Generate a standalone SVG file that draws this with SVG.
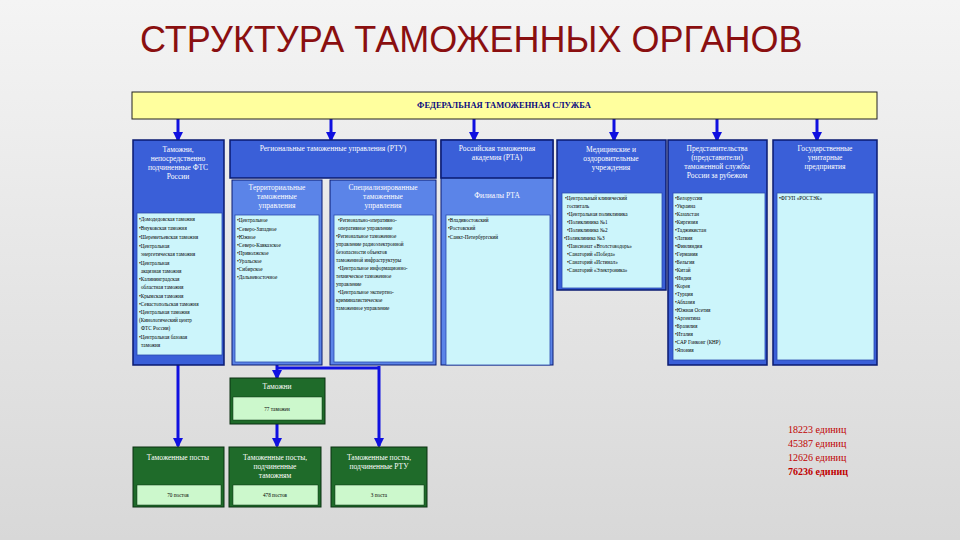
<svg xmlns="http://www.w3.org/2000/svg" width="960" height="540" viewBox="0 0 960 540">
<defs>
<linearGradient id="bg" x1="0" y1="0" x2="0" y2="1"><stop offset="0" stop-color="#f4f4f4"/><stop offset="1" stop-color="#d8d8d8"/></linearGradient>
<marker id="ah" viewBox="0 0 10 10" refX="8" refY="5" markerWidth="3.5" markerHeight="3.5" orient="auto"><path d="M0,0L10,5L0,10z" fill="#1010e0"/></marker>
</defs>
<style>
.db{fill:#3a5fd8;stroke:#0a1a70;stroke-width:1.5}
.mb{fill:#5b84e8;stroke:#0a1a70;stroke-width:1}
.lb{fill:#ccf5fb;stroke:#2a4ab0;stroke-width:0.8}
.h{font-family:"Liberation Serif",serif;font-size:7.5px;fill:#fff;text-anchor:middle}
.l{font-family:"Liberation Serif",serif;font-size:5.2px;fill:#000}
.g{fill:#1f6b2a;stroke:#0a3010;stroke-width:1}
.gl{fill:#ccf8cc;stroke:#0a3010;stroke-width:0.5}
.c{stroke:#1010e0;stroke-width:3;fill:none}
.ca{stroke:#1010e0;stroke-width:3;fill:none;marker-end:url(#ah)}
.n{font-family:"Liberation Serif",serif;font-size:10px;fill:#c00000}
</style>
<rect width="960" height="540" fill="url(#bg)"/>
<text x="140" y="52" font-family="Liberation Sans,sans-serif" font-size="36" fill="#8a0f10">СТРУКТУРА ТАМОЖЕННЫХ ОРГАНОВ</text>
<g id="connectors">
<path class="ca" d="M178,119V140"/><path class="ca" d="M331,119V140"/><path class="ca" d="M474,119V140"/>
<path class="ca" d="M614,119V140"/><path class="ca" d="M717,119V140"/><path class="ca" d="M817,119V140"/>
<path class="ca" d="M178,365V446"/>
<path class="ca" d="M277,365V378"/>
<path class="c" d="M277,368H379"/><path class="ca" d="M379,366V446"/>
<path class="ca" d="M277,424V446"/>
</g>
<g id="fts"><rect x="132" y="92" width="745" height="27" fill="#ffff9e" stroke="#222" stroke-width="1"/>
<text x="504" y="108" font-family="Liberation Serif,serif" font-size="8.5" font-weight="bold" fill="#0a0a80" text-anchor="middle">ФЕДЕРАЛЬНАЯ ТАМОЖЕННАЯ СЛУЖБА</text></g>
<g id="col1"><rect class="db" x="133" y="140" width="91" height="225"/>
<text class="h"><tspan x="178" y="152">Таможни,</tspan><tspan x="178" y="161">непосредственно</tspan><tspan x="178" y="170">подчиненные ФТС</tspan><tspan x="178" y="179">России</tspan></text>
<rect class="lb" x="137" y="213" width="85" height="142"/>
<text class="l"><tspan x="139" y="221">•Домодедовская таможня</tspan><tspan x="139" y="230">•Внуковская таможня</tspan><tspan x="139" y="239">•Шереметьевская таможня</tspan><tspan x="139" y="248">•Центральная</tspan><tspan x="141" y="256">энергетическая таможня</tspan><tspan x="139" y="265">•Центральная</tspan><tspan x="141" y="273">акцизная таможня</tspan><tspan x="139" y="281">•Калининградская</tspan><tspan x="141" y="289">областная таможня</tspan><tspan x="139" y="298">•Крымская таможня</tspan><tspan x="139" y="306">•Севастопольская таможня</tspan><tspan x="139" y="314">•Центральная таможня</tspan><tspan x="139" y="322">(Кинологический центр</tspan><tspan x="141" y="330">ФТС России)</tspan><tspan x="139" y="339">•Центральная базовая</tspan><tspan x="141" y="347">таможня</tspan></text></g>
<g id="rtu"><rect class="db" x="230" y="140" width="206" height="38"/>
<text class="h" x="333" y="151">Региональные таможенные управления (РТУ)</text></g>
<g id="terr"><rect class="mb" x="232" y="180" width="90" height="185"/>
<text class="h"><tspan x="277" y="190">Территориальные</tspan><tspan x="277" y="199">таможенные</tspan><tspan x="277" y="208">управления</tspan></text>
<rect class="lb" x="235" y="215" width="84" height="147"/>
<text class="l"><tspan x="237" y="222">•Центральное</tspan><tspan x="237" y="231">•Северо-Западное</tspan><tspan x="237" y="239">•Южное</tspan><tspan x="237" y="247">•Северо-Кавказское</tspan><tspan x="237" y="255">•Приволжское</tspan><tspan x="237" y="263">•Уральское</tspan><tspan x="237" y="271">•Сибирское</tspan><tspan x="237" y="279">•Дальневосточное</tspan></text></g>
<g id="spec"><rect class="mb" x="330" y="180" width="106" height="185"/>
<text class="h"><tspan x="383" y="190">Специализированные</tspan><tspan x="383" y="199">таможенные</tspan><tspan x="383" y="208">управления</tspan></text>
<rect class="lb" x="334" y="215" width="99" height="147"/>
<text class="l"><tspan x="338" y="222">•Регионально-оперативно-</tspan><tspan x="338" y="230">оперативное управление</tspan><tspan x="336" y="238">•Региональное таможенное</tspan><tspan x="336" y="246">управление радиоэлектронной</tspan><tspan x="336" y="254">безопасности объектов</tspan><tspan x="336" y="262">таможенной инфраструктуры</tspan><tspan x="338" y="270">•Центральное информационно-</tspan><tspan x="336" y="278">техническое таможенное</tspan><tspan x="336" y="286">управление</tspan><tspan x="338" y="294">•Центральное экспертно-</tspan><tspan x="336" y="302">криминалистическое</tspan><tspan x="336" y="310">таможенное управление</tspan></text></g>
<g id="rta"><rect class="mb" x="441" y="140" width="112" height="225"/>
<rect class="db" x="441" y="140" width="112" height="38"/>
<text class="h"><tspan x="497" y="151">Российская таможенная</tspan><tspan x="497" y="160">академия (РТА)</tspan></text>
<text class="h" x="497" y="198">Филиалы РТА</text>
<rect class="lb" x="446" y="215" width="104" height="150"/>
<text class="l"><tspan x="448" y="222">•Владивостокский</tspan><tspan x="448" y="230">•Ростовский</tspan><tspan x="448" y="239">•Санкт-Петербургский</tspan></text></g>
<g id="med"><rect class="db" x="557" y="140" width="109" height="150"/>
<text class="h"><tspan x="611" y="152">Медицинские и</tspan><tspan x="611" y="161">оздоровительные</tspan><tspan x="611" y="170">учреждения</tspan></text>
<rect class="lb" x="562" y="193" width="100" height="95"/>
<text class="l"><tspan x="565" y="200">•Центральный клинический</tspan><tspan x="567" y="208">госпиталь</tspan><tspan x="567" y="216">•Центральная поликлиника</tspan><tspan x="567" y="224">•Поликлиника №1</tspan><tspan x="567" y="232">•Поликлиника №2</tspan><tspan x="564" y="240">•Поликлиника №3</tspan><tspan x="567" y="248">•Пансионат «Втолстоводорь»</tspan><tspan x="567" y="256">•Санаторий «Победа»</tspan><tspan x="567" y="264">•Санаторий «Истинал»</tspan><tspan x="567" y="272">•Санаторий «Электроника»</tspan></text></g>
<g id="pred"><rect class="db" x="668" y="140" width="99" height="225"/>
<text class="h"><tspan x="717" y="151">Представительства</tspan><tspan x="717" y="160">(представители)</tspan><tspan x="717" y="169">таможенной службы</tspan><tspan x="717" y="178">России за рубежом</tspan></text>
<rect class="lb" x="673" y="193" width="92" height="167"/>
<text class="l"><tspan x="675" y="200">•Белоруссия</tspan><tspan x="675" y="208">•Украина</tspan><tspan x="675" y="216">•Казахстан</tspan><tspan x="675" y="224">•Киргизия</tspan><tspan x="675" y="232">•Таджикистан</tspan><tspan x="675" y="240">•Латвия</tspan><tspan x="675" y="248">•Финляндия</tspan><tspan x="675" y="256">•Германия</tspan><tspan x="675" y="264">•Бельгия</tspan><tspan x="675" y="272">•Китай</tspan><tspan x="675" y="280">•Индия</tspan><tspan x="675" y="288">•Корея</tspan><tspan x="675" y="296">•Турция</tspan><tspan x="675" y="304">•Абхазия</tspan><tspan x="675" y="312">•Южная Осетия</tspan><tspan x="675" y="320">•Аргентина</tspan><tspan x="675" y="328">•Бразилия</tspan><tspan x="675" y="336">•Италия</tspan><tspan x="675" y="344">•САР Гонконг (КНР)</tspan><tspan x="675" y="352">•Япония</tspan></text></g>
<g id="gup"><rect class="db" x="773" y="140" width="104" height="225"/>
<text class="h"><tspan x="825" y="151">Государственные</tspan><tspan x="825" y="160">унитарные</tspan><tspan x="825" y="169">предприятия</tspan></text>
<rect class="lb" x="777" y="193" width="97" height="167"/>
<text class="l" x="779" y="200">•ФГУП «РОСТЭК»</text></g>
<g id="tam"><rect class="g" x="230" y="378" width="95" height="46"/>
<text class="h" x="277" y="389">Таможни</text>
<rect class="gl" x="233" y="397" width="89" height="23"/>
<text class="l" x="277" y="411" font-size="7" text-anchor="middle">77 таможен</text></g>
<g id="p1"><rect class="g" x="133" y="447" width="91" height="60"/>
<text class="h" x="178" y="460">Таможенные посты</text>
<rect class="gl" x="137" y="485" width="84" height="20"/>
<text class="l" x="178" y="497" font-size="7" text-anchor="middle">70 постов</text></g>
<g id="p2"><rect class="g" x="229" y="447" width="92" height="60"/>
<text class="h"><tspan x="275" y="460">Таможенные посты,</tspan><tspan x="275" y="469">подчиненные</tspan><tspan x="275" y="478">таможням</tspan></text>
<rect class="gl" x="233" y="485" width="85" height="20"/>
<text class="l" x="275" y="497" font-size="7" text-anchor="middle">478 постов</text></g>
<g id="p3"><rect class="g" x="331" y="447" width="96" height="60"/>
<text class="h"><tspan x="379" y="460">Таможенные посты,</tspan><tspan x="379" y="469">подчиненные РТУ</tspan></text>
<rect class="gl" x="335" y="485" width="89" height="20"/>
<text class="l" x="379" y="497" font-size="7" text-anchor="middle">3 поста</text></g>
<g id="totals"><text class="n"><tspan x="788" y="433">18223 единиц</tspan><tspan x="788" y="447">45387 единиц</tspan><tspan x="788" y="461">12626 единиц</tspan><tspan x="788" y="475" font-weight="bold">76236 единиц</tspan></text></g>
</svg>
